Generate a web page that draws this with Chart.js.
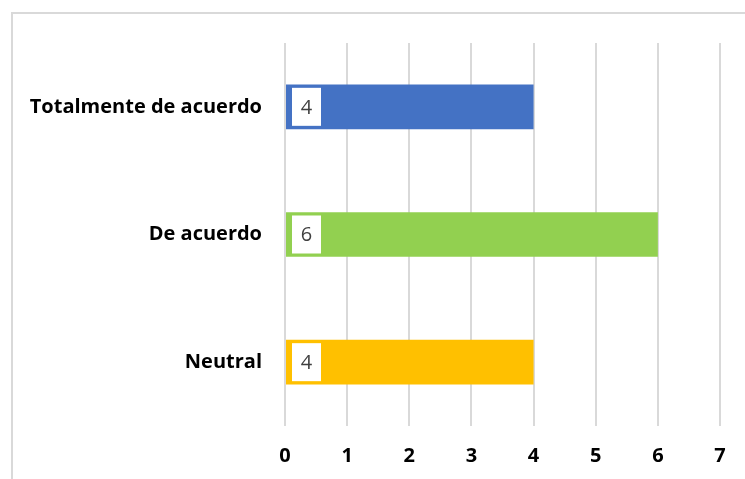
<!DOCTYPE html>
<html>
<head>
<meta charset="utf-8">
<script src="https://cdn.jsdelivr.net/npm/chart.js@4"></script>
<style>
  html, body { margin: 0; padding: 0; background: #fff; overflow: hidden; }
  #wrap { position: relative; width: 745px; height: 479px; }
  #frame { position: absolute; left: 11px; top: 12px; width: 800px; height: 600px; border: 2px solid #d9d9d9; box-sizing: border-box; }
  #chart1 { position: absolute; left: 0; top: 0; }
</style>
</head>
<body>
<div id="wrap">
  <div id="frame"></div>
  <canvas id="chart1" width="745" height="479"></canvas>
</div>
<script>
const categories = ['Totalmente de acuerdo', 'De acuerdo', 'Neutral']
const values = [4, 6, 4]
const barColors = ['#4472C4', '#92D050', '#FFC000']
const xTicks = [0, 1, 2, 3, 4, 5, 6, 7]

// etiquetas de datos en recuadro blanco al inicio de cada barra
const boxLabels = {
    id: 'boxLabels',
    afterDatasetsDraw(chart) {
        const ctx = chart.ctx
        const meta = chart.getDatasetMeta(0)
        ctx.save()
        meta.data.forEach((bar, i) => {
            const x = bar.base + 6
            const h = 38
            ctx.fillStyle = '#ffffff'
            ctx.fillRect(x, bar.y - h / 2, 29, h)
            ctx.fillStyle = '#404040'
            ctx.font = '20px "Open Sans", sans-serif'
            ctx.textAlign = 'center'
            ctx.textBaseline = 'middle'
            ctx.fillText(String(values[i]), x + 14.5, bar.y + 1)
        })
        ctx.restore()
    }
}

const drawChart = () => {

    const data = {
        labels: categories,
        datasets: [{
            data: values,
            backgroundColor: barColors,
            borderWidth: 0,
            categoryPercentage: 1,
            barPercentage: 0.35
        }]
    }

    const options = {
        indexAxis: 'y',
        responsive: false,
        animation: false,
        layout: { padding: { top: 43, right: 25, left: 0, bottom: 0 } },
        plugins: {
            legend: { display: false },
            tooltip: { enabled: false }
        },
        scales: {
            x: {
                min: 0,
                max: 7,
                afterBuildTicks: scale => { scale.ticks = xTicks.map(v => ({ value: v })) },
                afterFit: scale => { scale.height = 53 },
                grid: { color: '#d9d9d9', lineWidth: 2, drawTicks: false },
                border: { display: false },
                ticks: {
                    padding: 18,
                    color: '#000000',
                    font: { family: 'Open Sans', size: 20, weight: 'bold' }
                }
            },
            y: {
                afterFit: scale => { scale.width = 285 },
                grid: { display: false, drawTicks: false },
                border: { display: false },
                ticks: {
                    padding: 23,
                    color: '#000000',
                    font: { family: 'Open Sans', size: 20, weight: 'bold' }
                }
            }
        }
    }

    new Chart('chart1', {
        type: 'bar',
        data,
        options,
        plugins: [boxLabels]
    })
}

drawChart()
</script>
</body>
</html>
